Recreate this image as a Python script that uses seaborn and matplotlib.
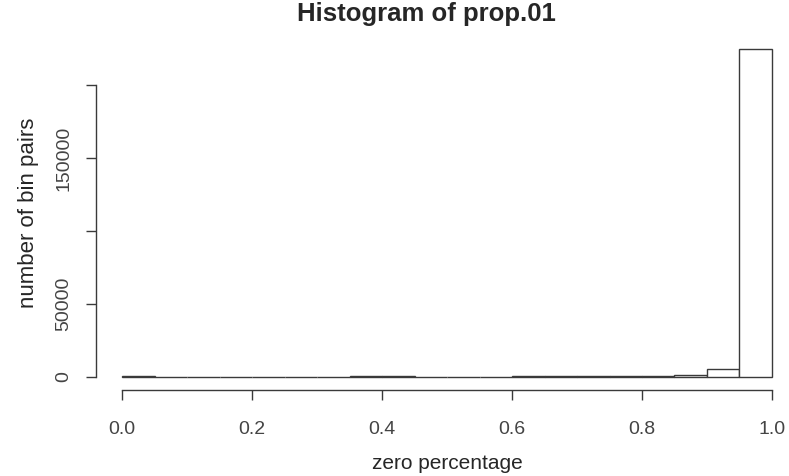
import matplotlib
matplotlib.use("Agg")
import numpy as np
import seaborn as sns
import matplotlib.pyplot as plt

# bin edges of the histogram (zero percentage)
bin_edges = [0.00, 0.05, 0.10, 0.15, 0.20, 0.25, 0.30, 0.35, 0.40, 0.45,
             0.50, 0.55, 0.60, 0.65, 0.70, 0.75, 0.80, 0.85, 0.90, 0.95, 1.00]
# counts per bin
bin_counts = [800, 0, 0, 0, 0, 0, 0, 800, 800, 0,
              0, 0, 800, 700, 700, 700, 700, 1400, 5300, 225000]

x_ticks = [0.0, 0.2, 0.4, 0.6, 0.8, 1.0]
x_tick_labels = ["0.0", "0.2", "0.4", "0.6", "0.8", "1.0"]
y_ticks = [0, 50000, 100000, 150000, 200000]
y_tick_labels = ["0", "50000", "", "150000", ""]

sns.set_style("white")
plt.rcParams["font.family"] = ["Liberation Sans", "DejaVu Sans"]

fig = plt.figure(figsize=(7.89, 4.76), dpi=100)
ax = fig.add_axes([0.1217, 0.1805, 0.8897, 0.7452])

edges = np.array(bin_edges)
mids = (edges[:-1] + edges[1:]) / 2
sns.histplot(x=mids, weights=bin_counts, bins=bin_edges, stat="count",
             color="white", edgecolor="#3a3a3a", linewidth=1.0, alpha=1,
             ax=ax)

ax.set_xlim(-0.04, 1.04)
ax.set_ylim(-9000, 234000)

for side in ["top", "right"]:
    ax.spines[side].set_visible(False)
for side in ["left", "bottom"]:
    ax.spines[side].set_color("#3a3a3a")
    ax.spines[side].set_linewidth(1.0)
ax.spines["left"].set_bounds(0, 200000)
ax.spines["bottom"].set_bounds(0, 1)

ax.set_xticks(x_ticks)
ax.set_xticklabels(x_tick_labels, fontsize=14, color="#444444")
ax.set_yticks(y_ticks)
ax.set_yticklabels(y_tick_labels, fontsize=14, color="#444444",
                   rotation=90, va="center")
ax.tick_params(axis="both", direction="out", length=7, width=1.0,
               color="#3a3a3a", left=True, bottom=True)
ax.tick_params(axis="x", pad=15)
ax.tick_params(axis="y", pad=10)

ax.set_xlabel("zero percentage", fontsize=15, labelpad=12)
ax.set_ylabel("number of bin pairs", fontsize=16, labelpad=12)
fig.text(0.54, 0.995, "Histogram of prop.01", ha="center", va="top",
         fontsize=18.5, fontweight="bold")

fig.savefig("out.png", dpi=100)
